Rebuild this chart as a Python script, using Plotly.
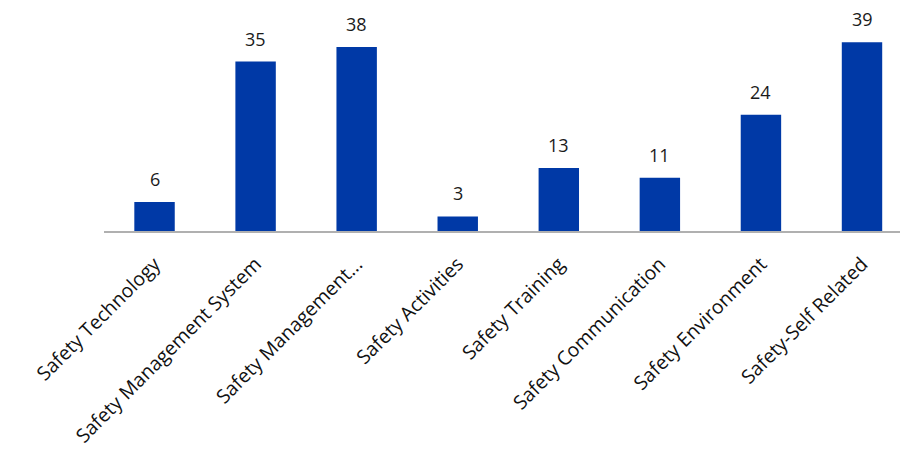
import plotly.graph_objects as go

categories = ["Safety Technology", "Safety Management System", "Safety Management...",
              "Safety Activities", "Safety Training", "Safety Communication",
              "Safety Environment", "Safety-Self Related"]
values = [6, 35, 38, 3, 13, 11, 24, 39]

bar_color = "#0039A6"
font_family = "'Open Sans', sans-serif"

fig = go.Figure()
fig.add_trace(go.Bar(
    x=categories, y=values, marker=dict(color=bar_color, line=dict(width=0)),
    width=0.4,
))

for c, v in zip(categories, values):
    fig.add_annotation(x=c, y=v, text=str(v), showarrow=False, yanchor="bottom",
                       yshift=9, font=dict(size=18, color="#1a1a1a", family=font_family))

fig.update_layout(
    width=900, height=450,
    margin=dict(l=104, r=0, t=10, b=219, autoexpand=False),
    paper_bgcolor="white", plot_bgcolor="white",
    showlegend=False,
    xaxis=dict(
        range=[-0.5, 7.376], automargin=False,
        showline=True, linecolor="#b0b0b0", linewidth=2,
        ticks="", tickangle=-45, ticklabelstandoff=12,
        tickfont=dict(size=19.5, color="#111111", family=font_family),
        showgrid=False,
    ),
    yaxis=dict(range=[0, 45.66], visible=False, showgrid=False, zeroline=False),
)

fig.write_html("out.html")
